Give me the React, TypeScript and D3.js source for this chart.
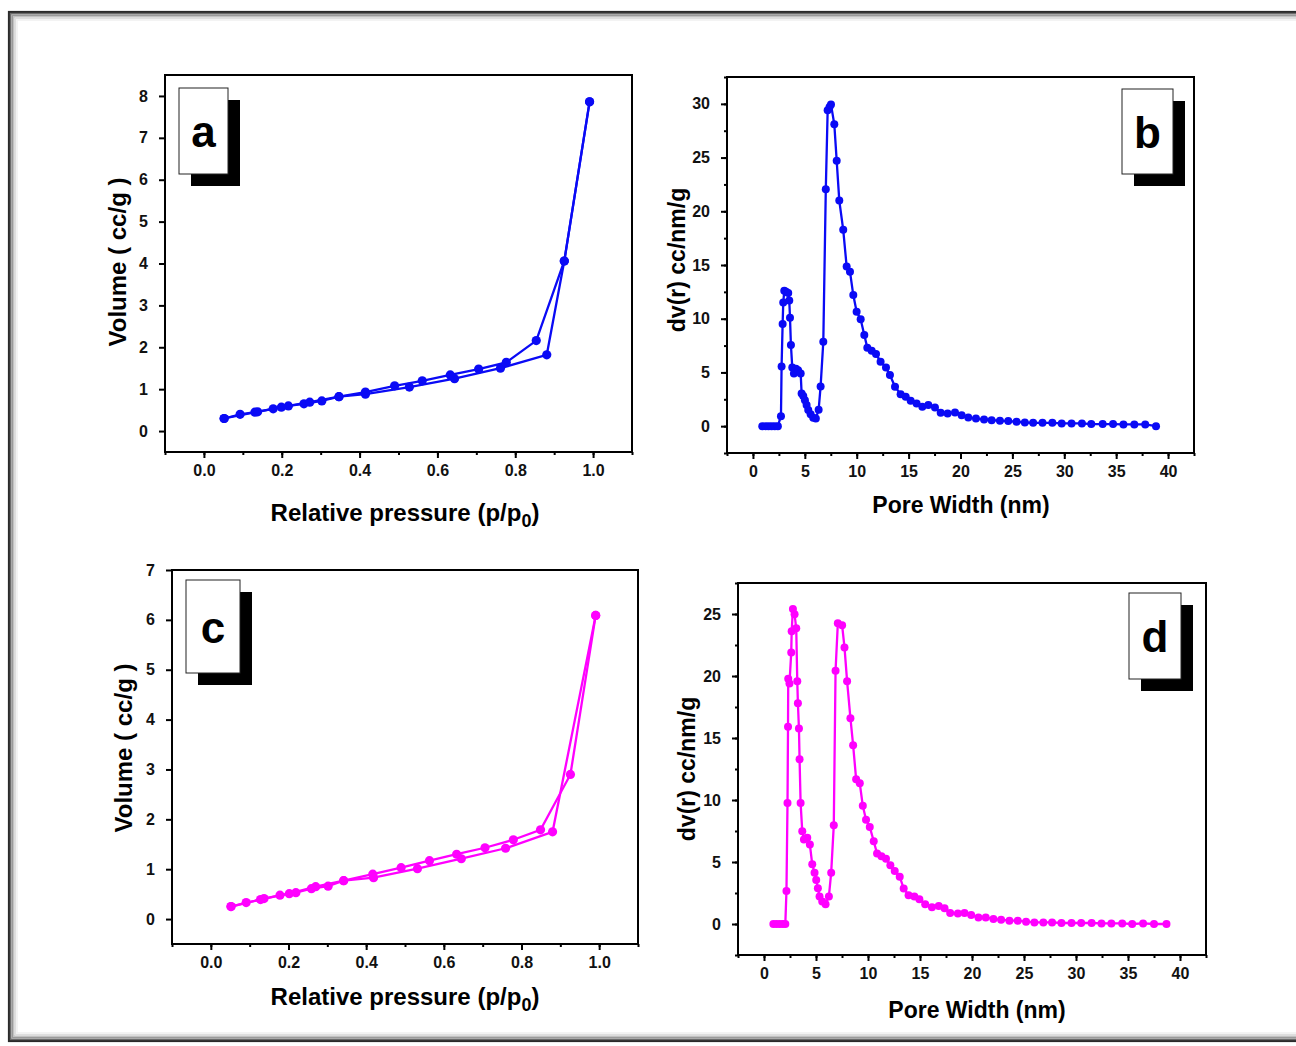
import React, { useEffect, useRef } from 'react'
import * as d3 from 'd3'

// ---- isotherm, sample 1 (panel a) ----
const adsA_x = [0.052, 0.093, 0.131, 0.178, 0.217, 0.257, 0.303, 0.347, 0.415, 0.528, 0.644, 0.762, 0.881, 0.926, 0.991]
const adsA_y = [0.30, 0.40, 0.45, 0.53, 0.60, 0.65, 0.72, 0.82, 0.88, 1.05, 1.25, 1.50, 1.82, 4.06, 7.86]
const desA_x = [0.991, 0.926, 0.854, 0.777, 0.706, 0.633, 0.561, 0.490, 0.415, 0.347, 0.272, 0.199, 0.138, 0.052]
const desA_y = [7.86, 4.06, 2.16, 1.64, 1.48, 1.34, 1.20, 1.08, 0.93, 0.82, 0.69, 0.57, 0.46, 0.30]

// ---- pore size distribution, sample 1 (panel b) ----
const psdB_x = [0.9, 1.2, 1.5, 1.8, 2.1, 2.4, 2.70, 2.76, 2.86, 2.92, 3.02, 3.20, 3.40, 3.50, 3.57, 3.66,
  3.79, 3.95, 4.14, 4.35, 4.60, 4.69, 4.85, 5.01, 5.17, 5.33, 5.56, 5.81, 6.06, 6.33, 6.52, 6.78, 7.02,
  7.20, 7.38, 7.52, 7.84, 8.07, 8.32, 8.70, 9.03, 9.35, 9.67, 9.99, 10.38, 10.73, 11.02, 11.44, 11.86,
  12.30, 12.82, 13.20, 13.69, 14.23, 14.72, 15.20, 15.77, 16.32, 16.90, 17.54, 18.09, 18.76, 19.47,
  20.11, 20.75, 21.49, 22.27, 23.00, 23.80, 24.60, 25.40, 26.20, 27.00, 27.90, 28.85, 29.75, 30.70,
  31.70, 32.60, 33.70, 34.70, 35.70, 36.75, 37.80, 38.84]
const psdB_y = [0, 0, 0, 0, 0, 0, 0.93, 5.55, 9.5, 11.5, 12.6, 12.5, 12.4, 11.7, 10.1, 7.55,
  5.45, 4.91, 5.35, 5.2, 4.91, 3.05, 2.8, 2.4, 1.96, 1.5, 1.1, 0.78, 0.72, 1.52, 3.7, 7.85, 22.06,
  29.4, 29.7, 29.95, 28.1, 24.7, 21.0, 18.27, 14.85, 14.38, 12.2, 10.65, 9.94, 8.48, 7.30, 7.02, 6.71,
  6.0, 5.47, 4.75, 3.67, 2.98, 2.73, 2.36, 2.11, 1.80, 1.96, 1.74, 1.24, 1.18, 1.27,
  1.02, 0.81, 0.71, 0.62, 0.56, 0.50, 0.47, 0.41, 0.34, 0.31, 0.31, 0.31, 0.25, 0.25,
  0.25, 0.19, 0.19, 0.19, 0.16, 0.16, 0.16, 0.0]

// ---- isotherm, sample 2 (panel c) ----
const adsC_x = [0.052, 0.091, 0.128, 0.178, 0.219, 0.259, 0.302, 0.342, 0.419, 0.532, 0.645, 0.759, 0.880, 0.991]
const adsC_y = [0.25, 0.33, 0.39, 0.48, 0.53, 0.61, 0.66, 0.77, 0.83, 1.01, 1.21, 1.42, 1.75, 6.09]
const desC_x = [0.991, 0.926, 0.849, 0.779, 0.706, 0.633, 0.563, 0.490, 0.417, 0.342, 0.270, 0.202, 0.137, 0.052]
const desC_y = [6.09, 2.90, 1.79, 1.59, 1.43, 1.30, 1.17, 1.03, 0.90, 0.77, 0.65, 0.51, 0.41, 0.25]

// ---- pore size distribution, sample 2 (panel d) ----
const psdD_x = [0.9, 1.2, 1.5, 1.8, 2.05, 2.16, 2.26, 2.31, 2.33, 2.45, 2.62, 2.66, 2.78, 2.94, 3.10,
  3.20, 3.26, 3.36, 3.42, 3.52, 3.68, 3.84, 4.16, 4.41, 4.64, 4.86, 5.02, 5.18, 5.34, 5.60, 5.92, 6.24,
  6.46, 6.71, 6.88, 7.10, 7.51, 7.74, 7.99, 8.31, 8.57, 8.86, 9.21, 9.50, 9.81, 10.17, 10.55, 10.87,
  11.29, 11.73, 12.15, 12.57, 13.05, 13.43, 13.90, 14.46, 14.94, 15.50, 16.15, 16.80, 17.36, 17.90,
  18.64, 19.28, 19.92, 20.62, 21.32, 22.06, 22.80, 23.60, 24.40, 25.20, 26.00, 26.86, 27.70, 28.60,
  29.57, 30.50, 31.50, 32.45, 33.40, 34.44, 35.40, 36.45, 37.50, 38.70]
const psdD_y = [0, 0, 0, 0, 0, 2.67, 9.75, 15.9, 19.77, 19.4, 21.9, 23.6, 25.4, 24.97, 23.85,
  19.58, 17.8, 15.76, 13.28, 9.75, 7.48, 6.81, 6.95, 6.41, 4.81, 4.14, 3.55, 2.88, 2.22, 1.82, 1.60, 2.22,
  4.14, 7.96, 20.43, 24.25, 24.1, 22.3, 19.58, 16.6, 14.42, 11.67, 11.35, 9.53, 8.41, 7.83, 6.67, 5.69,
  5.47, 5.26, 4.73, 4.27, 3.82, 2.86, 2.32, 2.22, 2.0, 1.6, 1.36, 1.45, 1.27, 0.88,
  0.85, 0.88, 0.72, 0.53, 0.53, 0.40, 0.35, 0.27, 0.27, 0.19, 0.13, 0.13, 0.13, 0.08,
  0.08, 0.08, 0.08, 0.05, 0.05, 0.05, 0.0, 0.05, 0.0, 0.0]

// ---- tick labels ----
const pressureTicks = [0, 0.2, 0.4, 0.6, 0.8, 1.0]
const widthTicks = [0, 5, 10, 15, 20, 25, 30, 35, 40]
const volTicksA = [0, 1, 2, 3, 4, 5, 6, 7, 8]
const volTicksC = [0, 1, 2, 3, 4, 5, 6, 7]
const dvTicksB = [0, 5, 10, 15, 20, 25, 30]
const dvTicksD = [0, 5, 10, 15, 20, 25]

const BLUE = '#0a0af5'
const MAGENTA = '#ff00ff'
const FONT = '"Liberation Sans", Arial, Helvetica, sans-serif'

const zip = (xs, ys) => xs.map((x, i) => ({ x, y: ys[i] }))

const panels = [
  {
    key: 'a', frame: [165, 75, 632, 452], xDomain: [-0.1, 1.1], yDomain: [-0.5, 8.5],
    xTicks: pressureTicks, xMinor: d3.range(-0.1, 1.11, 0.1), xFmt: d3.format('.1f'),
    yTicks: volTicksA, yMinor: [], color: BLUE, r: 4.6,
    series: [zip(adsA_x, adsA_y), zip(desA_x, desA_y)],
    xLabel: 'pressure', xLabelPos: [405, 521], yLabel: 'Volume ( cc/g )', yLabelPos: [117, 262],
    box: [179, 88, 49, 86], boxText: 'a'
  },
  {
    key: 'b', frame: [727, 77, 1194, 453], xDomain: [-2.5, 42.5], yDomain: [-2.5, 32.5],
    xTicks: widthTicks, xMinor: d3.range(-2.5, 42.6, 2.5), xFmt: d3.format('d'),
    yTicks: dvTicksB, yMinor: d3.range(-2.5, 32.6, 2.5), color: BLUE, r: 4,
    series: [zip(psdB_x, psdB_y)],
    xLabel: 'Pore Width (nm)', xLabelPos: [961, 513], yLabel: 'dv(r) cc/nm/g', yLabelPos: [677, 260],
    box: [1122, 89, 51, 85], boxText: 'b'
  },
  {
    key: 'c', frame: [172, 570, 638, 944], xDomain: [-0.1, 1.1], yDomain: [-0.5, 7],
    xTicks: pressureTicks, xMinor: d3.range(-0.1, 1.11, 0.1), xFmt: d3.format('.1f'),
    yTicks: volTicksC, yMinor: [], color: MAGENTA, r: 4.6,
    series: [zip(adsC_x, adsC_y), zip(desC_x, desC_y)],
    xLabel: 'pressure', xLabelPos: [405, 1005], yLabel: 'Volume ( cc/g )', yLabelPos: [123, 748],
    box: [186, 580, 54, 93], boxText: 'c'
  },
  {
    key: 'd', frame: [738, 583, 1206, 955], xDomain: [-2.5, 42.5], yDomain: [-2.5, 27.5],
    xTicks: widthTicks, xMinor: d3.range(-2.5, 42.6, 2.5), xFmt: d3.format('d'),
    yTicks: dvTicksD, yMinor: d3.range(-2.5, 27.6, 2.5), color: MAGENTA, r: 4,
    series: [zip(psdD_x, psdD_y)],
    xLabel: 'Pore Width (nm)', xLabelPos: [977, 1018], yLabel: 'dv(r) cc/nm/g', yLabelPos: [687, 769],
    box: [1129, 593, 52, 86], boxText: 'd'
  }
]

function drawPanel(svg, p) {
  const [x0, y0, x1, y1] = p.frame
  const x = d3.scaleLinear().domain(p.xDomain).range([x0, x1])
  const y = d3.scaleLinear().domain(p.yDomain).range([y1, y0])
  const g = svg.append('g')

  // label box with drop shadow
  const [bx, by, bw, bh] = p.box
  g.append('rect').attr('x', bx + 12).attr('y', by + 12).attr('width', bw).attr('height', bh).attr('fill', '#000')
  g.append('rect').attr('x', bx).attr('y', by).attr('width', bw).attr('height', bh)
    .attr('fill', '#fff').attr('stroke', '#222').attr('stroke-width', 1)
  g.append('text').attr('x', bx + bw / 2).attr('y', by + bh / 2 + 16)
    .attr('text-anchor', 'middle').attr('font-family', FONT).attr('font-weight', 'bold')
    .attr('font-size', 44).text(p.boxText)

  // axes
  const xAxis = g.append('g').attr('transform', `translate(0,${y1})`)
    .call(d3.axisBottom(x).tickValues(p.xTicks).tickFormat(p.xFmt).tickSize(6).tickPadding(7).tickSizeOuter(0))
  const xMin = g.append('g').attr('transform', `translate(0,${y1})`)
    .call(d3.axisBottom(x).tickValues(p.xMinor).tickFormat(() => '').tickSize(3).tickSizeOuter(0))
  const yAxis = g.append('g').attr('transform', `translate(${x0},0)`)
    .call(d3.axisLeft(y).tickValues(p.yTicks).tickSize(6).tickPadding(11).tickSizeOuter(0))
  const yMin = g.append('g').attr('transform', `translate(${x0},0)`)
    .call(d3.axisLeft(y).tickValues(p.yMinor).tickFormat(() => '').tickSize(3).tickSizeOuter(0))
  ;[xAxis, xMin, yAxis, yMin].forEach(a => {
    a.select('.domain').remove()
    a.attr('font-size', 16).attr('font-family', FONT)
    a.selectAll('line').attr('stroke', '#000').attr('stroke-width', 2)
    a.selectAll('text').attr('font-family', FONT).attr('font-weight', 'bold')
      .attr('font-size', 16).attr('fill', '#111')
  })

  // frame
  g.append('rect').attr('x', x0).attr('y', y0).attr('width', x1 - x0).attr('height', y1 - y0)
    .attr('fill', 'none').attr('stroke', '#000').attr('stroke-width', 2)

  // data
  const line = d3.line().x(d => x(d.x)).y(d => y(d.y))
  p.series.forEach(s => {
    g.append('path').datum(s).attr('d', line).attr('fill', 'none')
      .attr('stroke', p.color).attr('stroke-width', 2.3)
    g.selectAll(null).data(s).enter().append('circle')
      .attr('cx', d => x(d.x)).attr('cy', d => y(d.y)).attr('r', p.r).attr('fill', p.color)
  })

  // axis titles
  const xl = g.append('text').attr('x', p.xLabelPos[0]).attr('y', p.xLabelPos[1])
    .attr('text-anchor', 'middle').attr('font-family', FONT).attr('font-weight', 'bold')
    .attr('font-size', p.xLabel === 'pressure' ? 24 : 23).attr('fill', '#000')
  if (p.xLabel === 'pressure') {
    xl.append('tspan').text('Relative pressure (p/p')
    xl.append('tspan').attr('font-size', 18).attr('dy', 6).text('0')
    xl.append('tspan').attr('dy', -6).text(')')
  } else {
    xl.text(p.xLabel)
  }
  g.append('text')
    .attr('transform', `translate(${p.yLabelPos[0]},${p.yLabelPos[1]}) rotate(-90)`)
    .attr('text-anchor', 'middle').attr('dominant-baseline', 'central')
    .attr('font-family', FONT).attr('font-weight', 'bold')
    .attr('font-size', p.yLabel.startsWith('Volume') ? 24 : 23).attr('fill', '#000')
    .text(p.yLabel)
}

export default function App() {
  const ref = useRef(null)

  useEffect(() => {
    const svg = d3.select(ref.current)
    svg.selectAll('*').remove()

    // outer picture frame with soft inner shadow
    svg.append('rect').attr('width', 1296).attr('height', 1046).attr('fill', '#fff')
    const shades = ['#2a2a2a', '#6a6a6a', '#9a9a9a', '#c2c2c2', '#dedede', '#f0f0f0']
    shades.forEach((c, i) => {
      svg.append('rect').attr('x', 9 + i * 1.6).attr('y', 12 + i * 1.6)
        .attr('width', 1300 - i * 3.2).attr('height', 1029 - i * 3.2)
        .attr('fill', 'none').attr('stroke', c).attr('stroke-width', i === 0 ? 2.2 : 1.6)
    })

    panels.forEach(p => drawPanel(svg, p))
  }, [])

  return (
    <svg ref={ref} width={1296} height={1046}
      style={{ position: 'absolute', left: 0, top: 0, background: '#fff' }} />
  )
}
